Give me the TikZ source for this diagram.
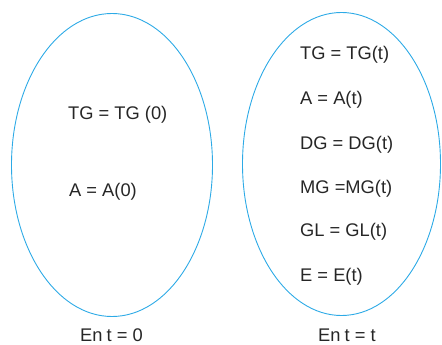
\documentclass[tikz,border=0pt]{standalone}
\usepackage{fontspec}
\setmainfont{Liberation Sans}
\definecolor{ellblue}{RGB}{45,170,230}
\begin{document}
\begin{tikzpicture}[x=1pt,y=-1pt,
  ell/.style={draw=ellblue,line width=0.9pt},
  lbl/.style={font=\fontsize{18.3}{21}\selectfont,text=black!85,inner sep=0pt,anchor=west}]
\useasboundingbox (0,0) rectangle (442,345);
\draw[ell] (112,165) ellipse [x radius=100.5,y radius=151.5];
\draw[ell] (341.5,164) ellipse [x radius=99,y radius=151.5];
\node[lbl] (tg0) at (68,115) {TG = TG (0)};
\node[lbl] (a0) at (69,192) {A = A(0)};
\node[lbl] (en0) at (80,335) {En\kern-1pt{} t = 0};
\node[lbl] (tgt) at (300,55) {TG = TG(t)};
\node[lbl] (at) at (300,100) {A = A(t)};
\node[lbl] (dgt) at (300,145) {DG = DG(t)};
\node[lbl] (mgt) at (300,189) {MG =MG(t)};
\node[lbl] (glt) at (300,232) {GL = GL(t)};
\node[lbl] (et) at (300,277) {E = E(t)};
\node[lbl] (ent) at (318,335) {En\kern-1pt{} t = t};
\end{tikzpicture}
\end{document}
